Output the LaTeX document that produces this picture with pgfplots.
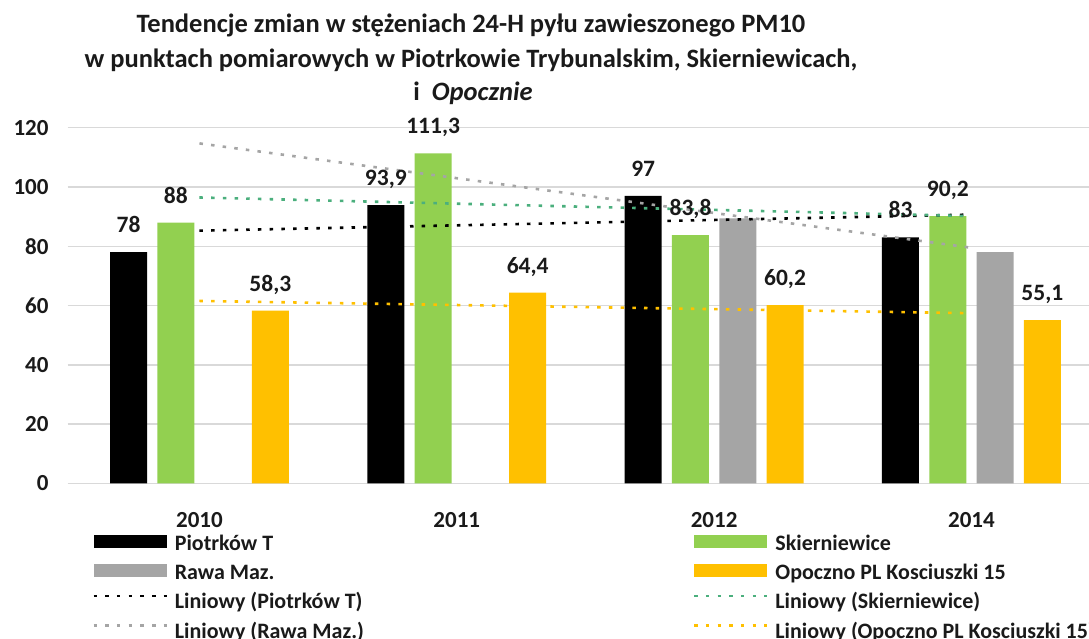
\documentclass[border=0pt]{standalone}
\usepackage{pgfplots}
\pgfplotsset{compat=1.18}
\usepackage{fontspec}
\setmainfont{Carlito}
\definecolor{cgreen}{HTML}{92D050}
\definecolor{cgray}{HTML}{A5A5A5}
\definecolor{cyellow}{HTML}{FFC000}
\definecolor{tgreen}{HTML}{4BAF7D}
\definecolor{grid}{HTML}{D9D9D9}
\definecolor{txt}{HTML}{1A1A1A}
\pgfplotsset{
  barleg/.style={legend image code/.code={\fill[#1] (0pt,-4pt) rectangle (73pt,9pt);}},
  trendleg/.style={legend image code/.code={\draw[#1, line width=2.6pt, dash pattern=on 3.5pt off 8.2pt] (0pt,5.5pt) -- (73pt,5.5pt);}},
}
\begin{document}
\begin{tikzpicture}
\path[use as bounding box] (0pt,0pt) rectangle (1089pt,639pt);
\begin{scope}[every node/.style={font=\bfseries\fontsize{26.5}{26.5}\selectfont, text=txt, anchor=base, inner sep=0pt}]
\node at (471pt,606pt) {Tendencje zmian w stężeniach 24-H pyłu zawieszonego PM10};
\node at (471pt,571.5pt) {w punktach pomiarowych w Piotrkowie Trybunalskim, Skierniewicach,};
\node at (473pt,538pt) {i\ \ \itshape Opocznie};
\end{scope}
\begin{axis}[
  at={(67.7pt,155.5pt)}, anchor=south west,
  scale only axis, width=1021.3pt, height=355.8pt,
  xmin=-0.512, xmax=3.457, ymin=0, ymax=120,
  clip=false,
  axis line style={draw=none},
  ymajorgrids, major grid style={draw=grid, line width=1.4pt},
  major tick length=0pt,
  ytick={0,20,40,60,80,100,120},
  xtick={0,1,2,3}, xticklabels={2010,2011,2012,2014},
  tick label style={font=\bfseries\fontsize{23}{23}\selectfont, text=txt, inner sep=0pt},
  yticklabel style={anchor=east, xshift=-19pt},
  xticklabel style={anchor=base, yshift=-44.5pt},
  /pgf/number format/.cd, use comma, assume math mode=true, 1000 sep={},
  /pgfplots/.cd,
  every node near coord/.append style={font=\bfseries\fontsize{23.5}{23.5}\selectfont, text=txt, anchor=base, yshift=19.5pt, inner sep=0pt},
  legend columns=2,
  legend style={draw=none, fill=none, inner sep=0pt, at={(axis description cs:0.0238,-0.1434)}, anchor=north west,
    nodes={inner sep=0pt, font=\bfseries\fontsize{22}{22}\selectfont, text=txt}, column sep=7pt, row sep=11.5pt},
  legend cell align=left,
]
\addplot[ybar, bar width=0.1438, bar shift=-0.2757, fill=black, draw=none, nodes near coords, barleg=black,
  every node near coord/.append style={xshift=-70.9pt}]
  coordinates {(0,78) (1,93.9) (2,97) (3,83)};
\addlegendentry{\makebox[511pt][l]{Piotrków T\strut}}
\addplot[ybar, bar width=0.1438, bar shift=-0.0919, fill=cgreen, draw=none, nodes near coords, barleg=cgreen,
  every node near coord/.append style={xshift=-23.6pt}]
  coordinates {(0,88) (1,111.3) (2,83.8) (3,90.2)};
\addlegendentry{Skierniewice\strut}
\addplot[ybar, bar width=0.1438, bar shift=0.0919, fill=cgray, draw=none, barleg=cgray]
  coordinates {(2,89.4) (3,78)};
\addlegendentry{\makebox[511pt][l]{Rawa Maz.\strut}}
\addplot[ybar, bar width=0.1438, bar shift=0.2757, fill=cyellow, draw=none, nodes near coords, barleg=cyellow,
  every node near coord/.append style={xshift=70.9pt}]
  coordinates {(0,58.3) (1,64.4) (2,60.2) (3,55.1)};
\addlegendentry{Opoczno PL Kosciuszki 15\strut}
% linear trend lines
\addplot[black, line width=2.6pt, dash pattern=on 3.5pt off 8.2pt, trendleg=black]
  coordinates {(0,85.26) (3,90.69)};
\addlegendentry{\makebox[511pt][l]{Liniowy (Piotrków T)\strut}}
\addplot[tgreen, line width=2.6pt, dash pattern=on 3.5pt off 8.2pt, trendleg=tgreen]
  coordinates {(0,96.46) (3,90.19)};
\addlegendentry{Liniowy (Skierniewice)\strut}
\addplot[cgray, line width=2.6pt, dash pattern=on 3.5pt off 8.2pt, trendleg=cgray]
  coordinates {(0,114.7) (3,79.5)};
\addlegendentry{\makebox[511pt][l]{Liniowy (Rawa Maz.)\strut}}
\addplot[cyellow, line width=2.6pt, dash pattern=on 3.5pt off 8.2pt, trendleg=cyellow]
  coordinates {(0,61.57) (3,57.43)};
\addlegendentry{Liniowy (Opoczno PL Kosciuszki 15)\strut}
\end{axis}
\end{tikzpicture}
\end{document}
